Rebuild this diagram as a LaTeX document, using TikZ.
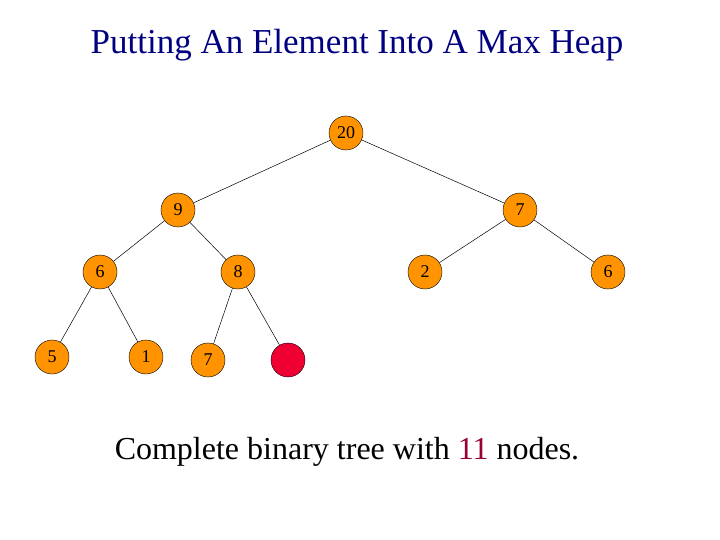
\documentclass[tikz,border=0pt]{standalone}
\usepackage{fontspec}
\setmainfont{Liberation Serif}
\begin{document}
\begin{tikzpicture}[x=1pt,y=-1pt,
  hn/.style={circle,draw=black,line width=0.4pt,fill=orange!85!yellow,minimum size=34pt,inner sep=0pt,text depth=-3pt,font=\fontsize{18}{18}\selectfont},
  rn/.style={hn,fill={rgb,255:red,238;green,0;blue,51}},
  ed/.style={line width=0.5pt}]
\useasboundingbox (0,0) rectangle (720,540);
\node[text={rgb,255:red,0;green,0;blue,128},font=\fontsize{35}{35}\selectfont] (title) at (357,45) {Putting An Element Into A Max Heap};
\node[hn] (a) at (346,133) {20};
\node[hn] (b) at (178,210) {9};
\node[hn] (c) at (520,210) {7};
\node[hn] (d) at (100,272) {6};
\node[hn] (e) at (238,272) {8};
\node[hn] (f) at (425,272) {2};
\node[hn] (g) at (608,272) {6};
\node[hn] (h) at (52,357) {5};
\node[hn] (i) at (146,357) {1};
\node[hn] (j) at (208,360) {7};
\node[rn] (k) at (288,360) {};
\draw[ed] (a)--(b); \draw[ed] (a)--(c);
\draw[ed] (b)--(d); \draw[ed] (b)--(e);
\draw[ed] (c)--(f); \draw[ed] (c)--(g);
\draw[ed] (d)--(h); \draw[ed] (d)--(i);
\draw[ed] (e)--(j); \draw[ed] (e)--(k);
\node[font=\fontsize{32}{32}\selectfont] (cap) at (347,452) {Complete binary tree with \textcolor[RGB]{153,0,51}{11} nodes.};
\end{tikzpicture}
\end{document}
